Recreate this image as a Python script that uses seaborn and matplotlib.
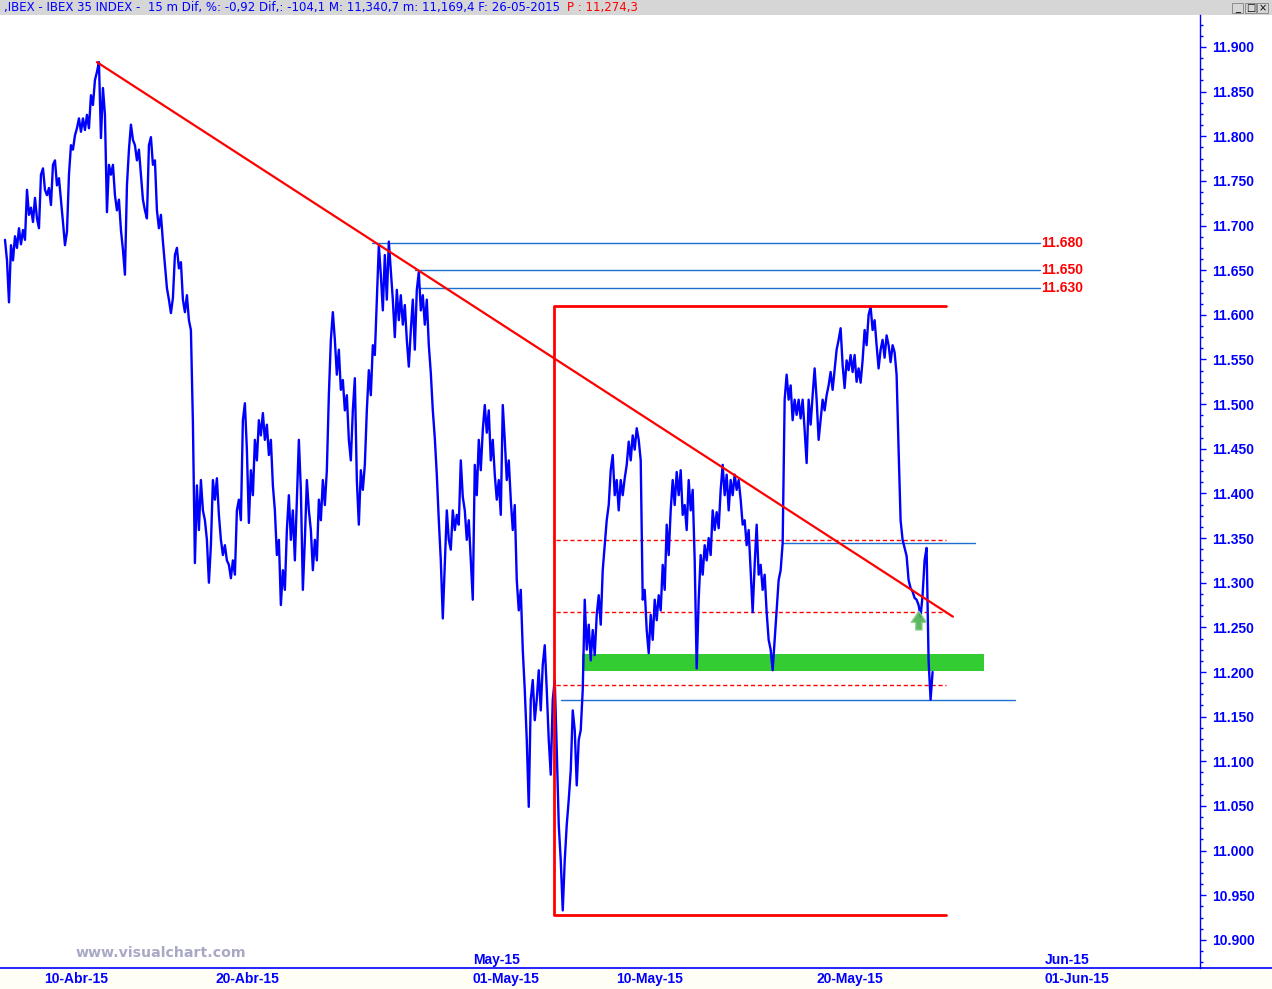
import numpy as np
import matplotlib
matplotlib.use('Agg')
import matplotlib.pyplot as plt
from matplotlib.patches import Rectangle
from matplotlib.lines import Line2D
from matplotlib.transforms import blended_transform_factory
import seaborn as sns

# IBEX 35, velas de 15 minutos (cierre)
precio = [
    11684, 11661, 11614, 11678, 11661, 11688, 11675, 11697, 11679, 11695, 11684, 11740, 11712, 11720, 11704, 11731, 11708, 11697, 11757, 11764,
    11740, 11734, 11742, 11723, 11768, 11773, 11745, 11753, 11729, 11704, 11678, 11693, 11757, 11790, 11785, 11801, 11809, 11820, 11805, 11820,
    11807, 11824, 11809, 11846, 11835, 11863, 11872, 11883, 11798, 11854, 11824, 11715, 11768, 11757, 11768, 11734, 11717, 11729, 11695, 11673,
    11645, 11745, 11785, 11813, 11796, 11790, 11773, 11785, 11757, 11729, 11717, 11708, 11790, 11799, 11768, 11773, 11717, 11697, 11712, 11682,
    11656, 11630, 11617, 11602, 11619, 11667, 11675, 11652, 11659, 11617, 11603, 11622, 11594, 11583, 11479, 11322, 11409, 11359, 11415, 11381,
    11370, 11348, 11300, 11342, 11415, 11393, 11417, 11376, 11348, 11331, 11342, 11325, 11320, 11305, 11325, 11309, 11381, 11393, 11370, 11482,
    11501, 11449, 11367, 11426, 11398, 11460, 11437, 11482, 11465, 11490, 11460, 11477, 11443, 11460, 11409, 11381, 11331, 11348, 11275, 11314,
    11292, 11359, 11398, 11348, 11381, 11325, 11393, 11460, 11404, 11292, 11348, 11415, 11381, 11359, 11314, 11348, 11325, 11393, 11370, 11415,
    11387, 11426, 11510, 11572, 11603, 11572, 11533, 11561, 11516, 11527, 11493, 11510, 11460, 11437, 11493, 11529, 11415, 11365, 11426, 11404,
    11432, 11493, 11538, 11510, 11566, 11555, 11617, 11678, 11645, 11605, 11667, 11617, 11682, 11650, 11617, 11575, 11628, 11594, 11622, 11589,
    11611, 11572, 11542, 11583, 11617, 11561, 11628, 11648, 11605, 11622, 11589, 11617, 11566, 11535, 11493, 11462, 11421, 11370, 11325, 11260,
    11320, 11381, 11348, 11337, 11381, 11359, 11376, 11365, 11437, 11396, 11381, 11348, 11370, 11325, 11281, 11432, 11398, 11460, 11426, 11471,
    11499, 11468, 11493, 11437, 11460, 11421, 11393, 11415, 11376, 11499, 11460, 11415, 11437, 11393, 11359, 11387, 11303, 11269, 11292, 11225,
    11180, 11124, 11049, 11169, 11191, 11146, 11169, 11202, 11157, 11208, 11230, 11180, 11124, 11085, 11169, 11191, 11113, 11029, 10989, 10933,
    10989, 11029, 11057, 11090, 11157, 11135, 11073, 11124, 11135, 11180, 11281, 11225, 11253, 11213, 11247, 11219, 11264, 11286, 11253, 11314,
    11342, 11370, 11387, 11426, 11443, 11398, 11415, 11381, 11415, 11398, 11417, 11432, 11458, 11437, 11465, 11449, 11473, 11460, 11437, 11281,
    11292, 11247, 11221, 11264, 11236, 11281, 11258, 11286, 11269, 11320, 11292, 11365, 11331, 11381, 11415, 11387, 11424, 11398, 11426, 11376,
    11387, 11359, 11415, 11381, 11404, 11325, 11204, 11281, 11331, 11309, 11342, 11325, 11350, 11331, 11381, 11359, 11379, 11361, 11404, 11432,
    11398, 11421, 11381, 11415, 11398, 11421, 11404, 11415, 11393, 11365, 11370, 11342, 11359, 11314, 11267, 11320, 11365, 11309, 11320, 11292,
    11309, 11267, 11236, 11225, 11202, 11236, 11269, 11303, 11314, 11344, 11505, 11533, 11505, 11521, 11482, 11505, 11488, 11505, 11484, 11505,
    11471, 11434, 11505, 11477, 11510, 11540, 11505, 11460, 11482, 11505, 11493, 11510, 11521, 11536, 11516, 11538, 11561, 11572, 11585, 11544,
    11518, 11549, 11538, 11555, 11536, 11555, 11525, 11540, 11524, 11549, 11583, 11566, 11600, 11609, 11583, 11594, 11566, 11540, 11561, 11572,
    11552, 11577, 11566, 11547, 11566, 11558, 11533, 11449, 11370, 11348, 11339, 11330, 11303, 11294, 11290, 11283, 11281, 11275, 11262, 11286,
    11325, 11339, 11213, 11169, 11200,
]
INICIO = -1.294   # sesiones respecto al 10-Abr-15
PASO = 0.0699     # sesiones entre muestras

# eje de fechas (en sesiones desde el 10-Abr-15)
fechas_pos = [0, 6, 15, 20, 27, 35]
fechas_txt = ['10-Abr-15', '20-Abr-15', '01-May-15', '10-May-15', '20-May-15', '01-Jun-15']
meses_pos = [15, 35]
meses_txt = ['May-15', 'Jun-15']

# dibujos del analista
tendencia_t = [1.92, 31.85]
tendencia_p = [11883, 11262]
niveles = [11680, 11650, 11630]
niveles_ini = [11.54, 13.04, 13.22]
niveles_fin = 34.9
caja_t = [17.9, 31.6]
caja_p = [10928, 11610]
rojas_p = [11348, 11267, 11186]
rojas_t = [17.97, 31.6]
soporte_p = 11169
soporte_t = [18.15, 34.02]
resist_p = 11344
resist_t = [25.91, 32.62]
zona_p = [11201, 11220]
zona_t = [18.88, 32.94]
flecha_t = 30.66
flecha_p = [11247, 11268]

AZUL = '#0000FF'
ROJO = '#FF0000'
AZUL_LINEA = '#1E6FD0'

sns.set_style('white')
plt.rcParams['font.family'] = ['DejaVu Sans']

W, H = 1272, 989
fig = plt.figure(figsize=(W / 100, H / 100), dpi=100)
fig.patch.set_facecolor('white')

# franja inferior y cabecera (por debajo de los ejes)
fig.patches.append(Rectangle((0, 0), 1, 21 / H, transform=fig.transFigure,
                             fc='#FFFEF4', ec='none', zorder=-2))
fig.patches.append(Rectangle((0, 1 - 15 / H), 1, 15 / H, transform=fig.transFigure,
                             fc='#D6D6D6', ec='none', zorder=-2))

ax = fig.add_axes([0, 21 / H, 1200 / W, (H - 15 - 21) / H])
ax.set_facecolor('white')
ax.patch.set_alpha(0)
ax.set_zorder(1)

t = INICIO + PASO * np.arange(len(precio))
sns.lineplot(x=t, y=precio, color=AZUL, linewidth=1.7, ax=ax, zorder=4)

# zona verde de soporte
ax.fill_between(zona_t, zona_p[0], zona_p[1], color='#33CC33', lw=0, zorder=2)

# niveles horizontales azules
for n, ini in zip(niveles, niveles_ini):
    ax.plot([ini, niveles_fin], [n, n], color=AZUL_LINEA, lw=1, zorder=3)
    ax.text(niveles_fin + 0.02, n, f'{n:,.0f}'.replace(',', '.'), color=ROJO,
            fontsize=10, fontweight='bold', family='Liberation Sans', va='center', ha='left')
ax.plot(soporte_t, [soporte_p] * 2, color=AZUL_LINEA, lw=1, zorder=3)
ax.plot(resist_t, [resist_p] * 2, color=AZUL_LINEA, lw=1, zorder=3)

# caja roja
ax.plot([caja_t[1], caja_t[0], caja_t[0], caja_t[1]],
        [caja_p[1], caja_p[1], caja_p[0], caja_p[0]], color=ROJO, lw=2, zorder=5)
for p in rojas_p:
    ax.plot(rojas_t, [p, p], color=ROJO, lw=1, ls=(0, (3, 2)), zorder=3)

# linea de tendencia
ax.plot(tendencia_t, tendencia_p, color=ROJO, lw=1.6, zorder=6)

# flecha verde
ax.annotate('', xy=(flecha_t, flecha_p[1]), xytext=(flecha_t, flecha_p[0]),
            arrowprops=dict(arrowstyle='simple,head_length=0.8,head_width=1.1,tail_width=0.45',
                            fc='#4CAF50', ec='#8FD08F', alpha=0.9, mutation_scale=10,
                            shrinkA=0, shrinkB=0),
            zorder=7)

ax.set_xlim(-1.4685, 40.49)
ax.set_ylim(10868.5, 11935.8)
ax.set(xlabel=None, ylabel=None)

# eje de precios a la derecha
ax.yaxis.tick_right()
ax.set_yticks(np.arange(10900, 11901, 50))
ax.set_yticks(np.arange(10875, 11936, 12.5), minor=True)
ax.set_yticklabels([f'{v:,.0f}'.replace(',', '.') for v in np.arange(10900, 11901, 50)])
ax.tick_params(axis='y', which='major', direction='out', length=4.5, width=1, colors=AZUL,
               labelsize=10, pad=4)
ax.tick_params(axis='y', which='minor', direction='out', length=2.5, width=1, colors=AZUL)
for lab in ax.get_yticklabels():
    lab.set_fontweight('bold')
    lab.set_family('Liberation Sans')

# eje de fechas
ax.set_xticks(fechas_pos)
ax.set_xticklabels([])
ax.set_xticks(meses_pos, minor=True)
ax.tick_params(axis='x', which='major', direction='out', length=5, width=1, colors=AZUL)
ax.tick_params(axis='x', which='minor', direction='in', length=9, width=1, colors=AZUL)
tr = blended_transform_factory(ax.transData, ax.transAxes)
alto = ax.get_position().height * H
for pos, txt in zip(fechas_pos, fechas_txt):
    ax.text(pos + 0.07, -11 / alto, txt, transform=tr, color=AZUL, fontsize=10,
            fontweight='bold', family='Liberation Sans', ha='left', va='center', clip_on=False)
for pos, txt in zip(meses_pos, meses_txt):
    ax.text(pos + 0.07, 8 / alto, txt, transform=tr, color=AZUL, fontsize=10,
            fontweight='bold', family='Liberation Sans', ha='left', va='center')

for s in ['top', 'left', 'bottom']:
    ax.spines[s].set_visible(False)
ax.spines['right'].set_color(AZUL)
ax.spines['right'].set_linewidth(1)

fig.add_artist(Line2D([0, 1], [21 / H, 21 / H], transform=fig.transFigure, color=AZUL, lw=1.2))

# cabecera
fig.text(4 / W, 1 - 7.5 / H,
         ',IBEX - IBEX 35 INDEX -  15 m Dif, %: -0,92 Dif,: -104,1 M: 11,340,7 m: 11,169,4 F: 26-05-2015',
         color=AZUL, fontsize=8.5, va='center', ha='left')
fig.text(567 / W, 1 - 7.5 / H, 'P : 11,274,3', color=ROJO, fontsize=8.5, va='center', ha='left')
for bx, sym in zip([1232, 1245, 1257], ['_', '□', '×']):
    fig.patches.append(Rectangle((bx / W, 1 - 13 / H), 11 / W, 10 / H, transform=fig.transFigure,
                                 fc='#D6D6D6', ec='#808080', lw=0.6))
    fig.text((bx + 5.5) / W, 1 - 8 / H, sym, fontsize=7, ha='center', va='center', color='black')

# marca de agua
fig.text(75 / W, (H - 953) / H, 'www.visualchart.com', color='#A9A9C6', fontsize=10.2,
         fontweight='bold', ha='left', va='center')

fig.savefig('out.png', dpi=100, facecolor='white')
